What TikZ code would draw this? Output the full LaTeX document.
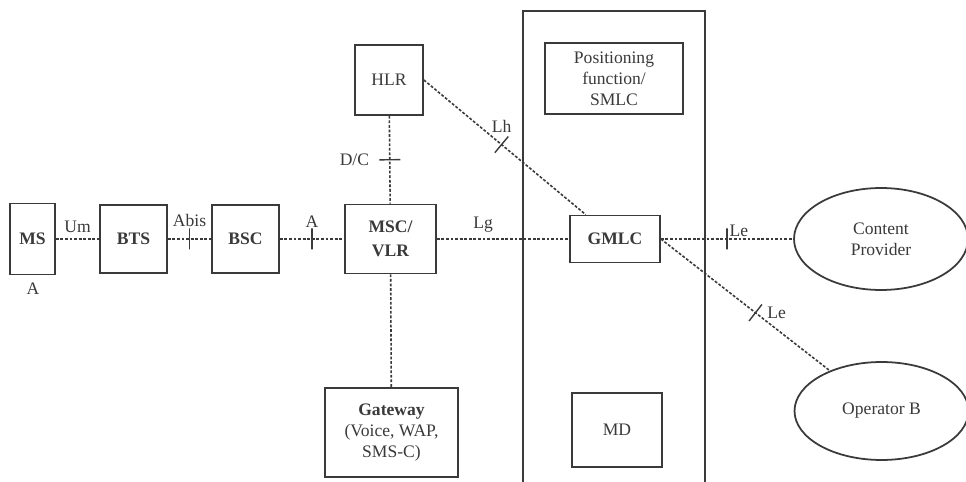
\documentclass[tikz,border=0pt]{standalone}
\usepackage{fontspec}
\setmainfont{Liberation Serif}
\usetikzlibrary{shapes.geometric}
\definecolor{Ink}{HTML}{3A3A3A}
\definecolor{Paper}{HTML}{FFFFFF}

\begin{document}
\begin{tikzpicture}[x=0.02cm,y=-0.02cm,every node/.style={text=Ink,font=\fontsize{10}{12}\selectfont},heavy/.style={font=\fontsize{10}{12}\selectfont\bfseries},box/.style={draw=Ink,line width=1pt,inner sep=1pt,align=center},cloud/.style={ellipse,draw=Ink,line width=1pt,inner sep=0pt,align=center},link/.style={draw=Ink,line width=0.9pt,dash pattern=on 1.6pt off 1pt},cutmark/.style={draw=Ink,solid,line width=0.8pt,sloped,minimum width=0pt,minimum height=0.42cm,inner sep=0pt}]
\useasboundingbox[fill=Paper] (0,0) rectangle (966,482);

\draw[draw=Ink,line width=1pt] (523,482) |- (705,11) -- (705,482);

\node[box,heavy,minimum width=0.9cm,minimum height=1.42cm] (ms) at (32.5,239) {MS};
\node (msport) at (33,289) {A};
\node[box,heavy,minimum width=1.34cm,minimum height=1.36cm] (bts) at (133.5,239) {BTS};
\node[box,heavy,minimum width=1.34cm,minimum height=1.36cm] (bsc) at (245.5,239) {BSC};
\node[box,heavy,minimum width=1.82cm,minimum height=1.38cm] (msc) at (390.5,239) {MSC/\\[2pt]VLR};
\node[box,minimum width=1.36cm,minimum height=1.4cm] (hlr) at (389,80) {HLR};
\node[box,heavy,minimum width=2.66cm,minimum height=1.78cm] (gw) at (391.5,432.5) {Gateway\\\normalfont(Voice, WAP,\\\normalfont SMS-C)};
\node[box,minimum width=2.76cm,minimum height=1.42cm] (posf) at (614,78.5) {Positioning\\function/\\SMLC};
\node[box,heavy,minimum width=1.8cm,minimum height=0.94cm] (gmlc) at (615,239) {GMLC};
\node[box,minimum width=1.8cm,minimum height=1.48cm] (md) at (617,430) {MD};
\node[cloud,minimum width=3.48cm,minimum height=2.04cm] (cp) at (881,239) {Content\\Provider};
\node[cloud,minimum width=3.48cm,minimum height=1.96cm] (opb) at (881.5,411) {Operator B};

\draw[link] (ms) -- node[above]{Um} (bts);
\draw[link] (bts) -- node[cutmark]{} node[above=3pt]{Abis} (bsc);
\draw[link] (bsc) -- node[cutmark]{} node[above=3pt]{A} (msc);
\draw[link] (hlr) -- node[cutmark]{} node[left=8pt]{D/C} (msc);
\draw[link] (msc) -- (gw);
\draw[link] (msc) -- node[pos=0.35,above]{Lg} (gmlc);
\draw[link] (hlr.east) -- node[pos=0.48,cutmark]{} node[pos=0.48,above=3pt]{Lh} (gmlc);
\draw[link] (gmlc) -- node[cutmark]{} node[anchor=south west,inner sep=1pt]{Le} (cp);
\draw[link] (gmlc.east) -- node[pos=0.56,cutmark]{} node[pos=0.56,right=3pt]{Le} (opb);

\end{tikzpicture}
\end{document}
